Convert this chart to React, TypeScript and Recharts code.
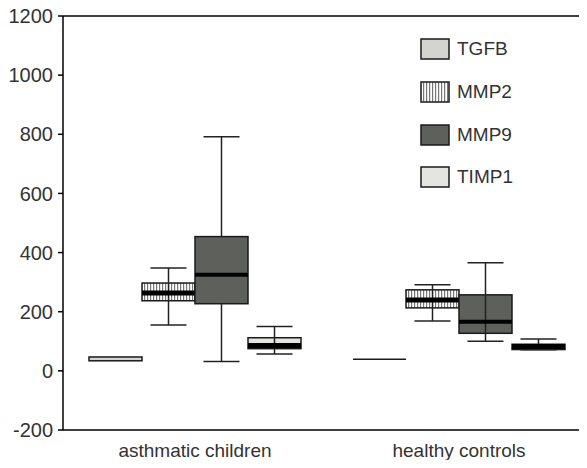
import { ComposedChart, Bar, XAxis, YAxis, Legend, ReferenceLine } from 'recharts';

const YMIN = -200;
const YMAX = 1200;

const categories = ['asthmatic children', 'healthy controls'];
const seriesNames = ['TGFB', 'MMP2', 'MMP9', 'TIMP1'];
const yTicks = [-200, 0, 200, 400, 600, 800, 1000, 1200];

// [min, q1, median, q3, max] for each category
const tgfb = [[34, 34, 41, 47, 47], [39, 39, 39, 39, 39]];
const mmp2 = [[155, 237, 263, 297, 348], [169, 213, 240, 274, 291]];
const mmp9 = [[32, 227, 325, 454, 792], [100, 127, 166, 257, 366]];
const timp1 = [[57, 75, 86, 112, 150], [71, 72, 82, 90, 108]];

const data = categories.map((name, i) => ({
  name,
  TGFB: tgfb[i],
  MMP2: mmp2[i],
  MMP9: mmp9[i],
  TIMP1: timp1[i],
}));

const styles: Record<string, { fill: string; median: number }> = {
  TGFB: { fill: '#d3d3cf', median: 0 },
  MMP2: { fill: 'url(#stripes)', median: 5 },
  MMP9: { fill: '#5e605c', median: 4 },
  TIMP1: { fill: '#e4e4e1', median: 5 },
};

const makeBox = (key: string) => (props: any) => {
  const { x, y, width, height, payload } = props;
  const s = payload[key];
  const top = Math.min(y, y + height);
  const bottom = top + Math.abs(height);
  const unit = Math.abs(height) / (s[4] - YMIN);
  const py = (v: number) => bottom - (v - YMIN) * unit;
  const cx = x + width / 2;
  const capW = width * 0.34;
  const st = styles[key];
  const boxTop = py(s[3]);
  const boxBottom = py(s[1]);
  const flat = boxBottom - boxTop < 1;
  return (
    <g>
      {flat ? (
        <line x1={x} x2={x + width} y1={boxTop} y2={boxTop} stroke="#1a1a1a" strokeWidth={1.5} />
      ) : (
        <rect x={x} y={boxTop} width={width} height={boxBottom - boxTop} fill={st.fill} stroke="#1a1a1a" strokeWidth={1.5} />
      )}
      {s[4] > s[3] && (
        <>
          <line x1={cx} x2={cx} y1={py(s[4])} y2={flat ? boxTop : boxTop + (key === 'MMP9' && s[4] > 600 ? 0 : boxBottom - boxTop)} stroke="#222" strokeWidth={1.5} />
          <line x1={cx - capW} x2={cx + capW} y1={py(s[4])} y2={py(s[4])} stroke="#222" strokeWidth={1.5} />
        </>
      )}
      {s[0] < s[1] && (
        <>
          <line x1={cx} x2={cx} y1={boxBottom} y2={py(s[0])} stroke="#222" strokeWidth={1.5} />
          <line x1={cx - capW} x2={cx + capW} y1={py(s[0])} y2={py(s[0])} stroke="#222" strokeWidth={1.5} />
        </>
      )}
      {st.median > 0 && (
        <line x1={x} x2={x + width} y1={py(s[2])} y2={py(s[2])} stroke="#000" strokeWidth={st.median} />
      )}
    </g>
  );
};

const LegendContent = () => (
  <div style={{ fontFamily: '"Liberation Sans", Arial, sans-serif' }}>
    {seriesNames.map((n) => (
      <div key={n} style={{ height: 42.7, display: 'flex', alignItems: 'center' }}>
        <svg width={32} height={24} style={{ display: 'block' }}>
          <defs>
            <pattern id={`lg-${n}`} width={3} height={4} patternUnits="userSpaceOnUse">
              <rect width={3} height={4} fill="#fff" />
              <rect width={1.2} height={4} fill="#777" />
            </pattern>
          </defs>
          <rect
            x={1}
            y={2}
            width={28}
            height={20}
            fill={n === 'MMP2' ? `url(#lg-${n})` : styles[n].fill}
            stroke="#1a1a1a"
            strokeWidth={1.5}
          />
        </svg>
        <span style={{ fontSize: 19, color: '#333', marginLeft: 5 }}>{n}</span>
      </div>
    ))}
  </div>
);

export default function App() {
  return (
    <div style={{ margin: -8, width: 587, height: 468, overflow: 'hidden', background: '#fff' }}>
      <ComposedChart
        width={600}
        height={468}
        data={data}
        margin={{ top: 16, right: 9, left: 0, bottom: 0 }}
        barGap={0}
        barSize={53}
      >
        <defs>
          <pattern id="stripes" width={3} height={4} patternUnits="userSpaceOnUse">
            <rect width={3} height={4} fill="#fff" />
            <rect width={1.2} height={4} fill="#777" />
          </pattern>
        </defs>
        <XAxis
          dataKey="name"
          height={38}
          tickLine={false}
          tickSize={0}
          tickMargin={14}
          axisLine={{ stroke: '#000', strokeWidth: 1.5 }}
          tick={{ fontSize: 19, fill: '#333', fontFamily: '"Liberation Sans", Arial, sans-serif' }}
        />
        <YAxis
          type="number"
          domain={[YMIN, YMAX]}
          ticks={yTicks}
          width={63}
          tickSize={5}
          tickMargin={5}
          axisLine={{ stroke: '#000', strokeWidth: 1.5 }}
          tickLine={{ stroke: '#000', strokeWidth: 1.5 }}
          tick={{ fontSize: 20, fill: '#333', fontFamily: '"Liberation Sans", Arial, sans-serif' }}
        />
        <ReferenceLine y={YMAX} stroke="#000" strokeWidth={1.5} />
        {seriesNames.map((key) => (
          <Bar
            key={key}
            dataKey={(d: any) => [YMIN, d[key][4]]}
            name={key}
            shape={makeBox(key)}
            isAnimationActive={false}
          />
        ))}
        <Legend
          layout="vertical"
          align="center"
          verticalAlign="middle"
          content={<LegendContent />}
          wrapperStyle={{ top: 28, left: 420, width: 120, height: 175 }}
        />
      </ComposedChart>
    </div>
  );
}
